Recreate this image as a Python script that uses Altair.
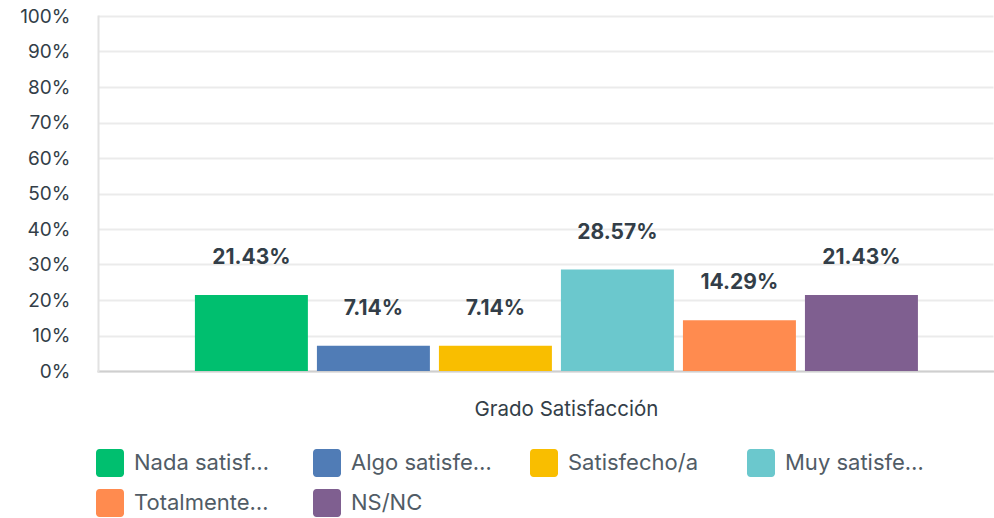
import altair as alt
import pandas as pd

categories = ["Nada satisf…", "Algo satisfe…", "Satisfecho/a", "Muy satisfe…", "Totalmente…", "NS/NC"]
values = [0.2143, 0.0714, 0.0714, 0.2857, 0.1429, 0.2143]
colors = ["#00bf6f", "#507cb6", "#f9be00", "#6bc8cd", "#ff8b4f", "#7f5f90"]
group = ["Grado Satisfacción"] * len(categories)
y_ticks = [0, 0.1, 0.2, 0.3, 0.4, 0.5, 0.6, 0.7, 0.8, 0.9, 1.0]

df = pd.DataFrame({"group": group, "serie": categories, "value": values})

FONT = "Inter"
TEXT = "#333e48"

rounded = ("M-0.75,-1 L0.75,-1 A0.25,0.25 0 0 1 1,-0.75 L1,0.75 A0.25,0.25 0 0 1 0.75,1 "
           "L-0.75,1 A0.25,0.25 0 0 1 -1,0.75 L-1,-0.75 A0.25,0.25 0 0 1 -0.75,-1 Z")

x_enc = alt.X("group:N", title=None,
              scale=alt.Scale(paddingInner=0, paddingOuter=0.1113, align=0.567),
              axis=alt.Axis(labelAngle=0, labelFont=FONT, labelFontSize=20.5, labelColor=TEXT,
                            labelPadding=28, labelOffset=10, labelLimit=500, ticks=False,
                            domainColor="#cfcfcf", domainWidth=2))
xo_enc = alt.XOffset("serie:N", sort=categories,
                     scale=alt.Scale(paddingInner=0.074, paddingOuter=0.037))
y_enc = alt.Y("value:Q", title=None,
              scale=alt.Scale(domain=[0, 1], nice=False),
              axis=alt.Axis(values=y_ticks, format=".0%", labelOverlap=False,
                            labelFont=FONT, labelFontSize=19, labelColor=TEXT,
                            labelPadding=28, ticks=False, domainColor="#e2e2e2", domainWidth=2,
                            gridColor="#ebebeb", gridWidth=2))
color_enc = alt.Color("serie:N", sort=categories,
                      scale=alt.Scale(domain=categories, range=colors),
                      legend=alt.Legend(title=None, orient="none", legendX=-2, legendY=433,
                                        direction="horizontal", columns=4, gridAlign="all",
                                        columnPadding=38, rowPadding=12,
                                        symbolType=rounded, symbolSize=784,
                                        symbolStrokeWidth=0, symbolOpacity=1,
                                        labelFont=FONT, labelFontSize=22, labelColor="#515c66",
                                        labelOffset=10, labelLimit=300, padding=0))

bars = alt.Chart(df).mark_bar().encode(
    x=x_enc,
    xOffset=xo_enc,
    y=y_enc,
    color=color_enc,
)

labels = alt.Chart(df).mark_text(font=FONT, fontSize=21, fontWeight="bold", color=TEXT,
                                 baseline="middle", dy=-37).encode(
    x=x_enc,
    xOffset=xo_enc,
    y=y_enc,
    text=alt.Text("value:Q", format=".2%"),
)

chart = alt.layer(bars, labels).properties(
    width=895, height=355,
    padding={"left": 98, "top": 16, "right": 1, "bottom": 147},
    autosize="none",
).configure_view(stroke=None).configure_axis(domainCap="square")

chart.save("out.html", embed_options={"renderer": "svg", "actions": False})
